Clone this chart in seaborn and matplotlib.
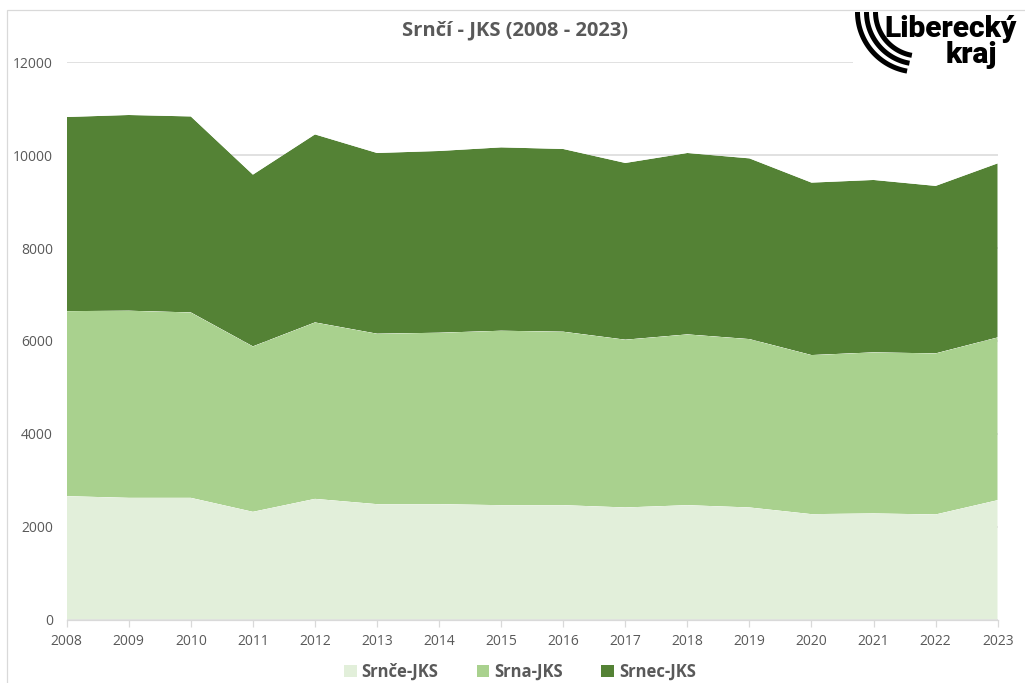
import numpy as np
import pandas as pd
import matplotlib
matplotlib.use("Agg")
import matplotlib.pyplot as plt
import seaborn as sns
import seaborn.objects as so
from matplotlib.patches import Patch, Rectangle

# ---------------- data ----------------
years = list(range(2008, 2024))
srnce = [2656, 2620, 2620, 2319, 2598, 2484, 2484, 2462, 2462, 2413, 2462, 2413, 2269, 2284, 2262, 2570]
srna = [3985, 4030, 3993, 3563, 3800, 3671, 3692, 3757, 3736, 3613, 3678, 3626, 3426, 3469, 3469, 3505]
srnec = [4181, 4215, 4221, 3699, 4049, 3892, 3914, 3949, 3935, 3806, 3907, 3892, 3714, 3713, 3607, 3749]
series_names = ["Srnče-JKS", "Srna-JKS", "Srnec-JKS"]
colors = ["#E2EFDA", "#A9D18E", "#548235"]
yticks = [0, 2000, 4000, 6000, 8000, 10000, 12000]
title = "Srnčí - JKS (2008 - 2023)"

W, H = 1025, 683
TXT = "#595959"
GRID = "#D9D9D9"

sns.set_theme(style="white")
plt.rcParams["font.family"] = ["Open Sans", "DejaVu Sans"]

fig = plt.figure(figsize=(W / 100, H / 100), dpi=100)
fig.patch.set_facecolor("white")


def fx(x):
    return x / W


def fy(y):
    return 1 - y / H


ax = fig.add_axes([fx(66.7), fy(619.5), fx(997.7) - fx(66.7), fy(62.3) - fy(619.5)])

df = pd.DataFrame({
    "year": years * 3,
    "value": srnce + srna + srnec,
    "series": sum([[n] * len(years) for n in series_names], []),
})

(
    so.Plot(df, x="year", y="value", color="series")
    .add(so.Area(alpha=1, edgewidth=0), so.Stack())
    .scale(color=so.Nominal(colors, order=series_names))
    .on(ax)
    .plot()
)
fig.legends.clear()

ax.set_facecolor("white")
ax.set_xlim(2008, 2023)
ax.set_ylim(0, 12000)
ax.set_xticks(years)
ax.set_xticklabels([str(y) for y in years])
ax.set_yticks(yticks)
ax.set_yticklabels([str(v) for v in yticks])
ax.set_xlabel("")
ax.set_ylabel("")
ax.grid(False)
ax.yaxis.grid(True, color=GRID, lw=1.1)
ax.set_axisbelow(True)
for s in ["top", "right", "left"]:
    ax.spines[s].set_visible(False)
ax.spines["bottom"].set_color(GRID)
ax.spines["bottom"].set_linewidth(0.9)
ax.spines["bottom"].set_zorder(5)
ax.tick_params(axis="x", length=5, width=0.9, color=GRID, labelsize=10,
               labelcolor=TXT, pad=5.5, direction="out", bottom=True)
ax.tick_params(axis="y", length=0, labelsize=10, labelcolor=TXT, pad=10, left=False)

# title
fig.text(fx(514.7), fy(30), title, ha="center", va="center", fontsize=14.5,
         fontweight="bold", color=TXT)

# legend
handles = [Patch(facecolor=c, edgecolor="none") for c in colors]
fig.legend(handles, series_names, loc="center", bbox_to_anchor=(fx(520), fy(671.5)),
           ncol=3, frameon=False, prop=dict(weight="bold", size=12), labelcolor=TXT,
           handlelength=0.75, handleheight=0.75, handletextpad=0.3, columnspacing=2.3)

# chart frame
fig.patches.append(Rectangle((fx(6.5), -0.05), 1.2, fy(10) + 0.05, transform=fig.transFigure,
                             fill=False, edgecolor=GRID, lw=0.9))

# logo
lax = fig.add_axes([fx(853), fy(78), fx(1025) - fx(853), fy(11) - fy(78)])
lax.set_xlim(853, 1025)
lax.set_ylim(78, 11)
lax.set_facecolor("white")
lax.set_xticks([])
lax.set_yticks([])
for s in lax.spines.values():
    s.set_visible(False)
t = np.linspace(0, np.radians(80), 60)
for x0, r in [(857.5, 60), (866.5, 52), (875.5, 44)]:
    cx, cy = x0 + r, 12
    lax.plot(cx - r * np.cos(t), cy + r * np.sin(t), color="black", lw=3.6,
             solid_capstyle="butt")
lax.text(884, 37, "Liberecký", ha="left", va="baseline", fontsize=21.5, fontweight=900,
         family=["Roboto", "DejaVu Sans"], color="black")
lax.text(946, 63, "kraj", ha="left", va="baseline", fontsize=21.5, fontweight=900,
         family=["Roboto", "DejaVu Sans"], color="black")

fig.savefig("out.png", dpi=100, facecolor="white")
